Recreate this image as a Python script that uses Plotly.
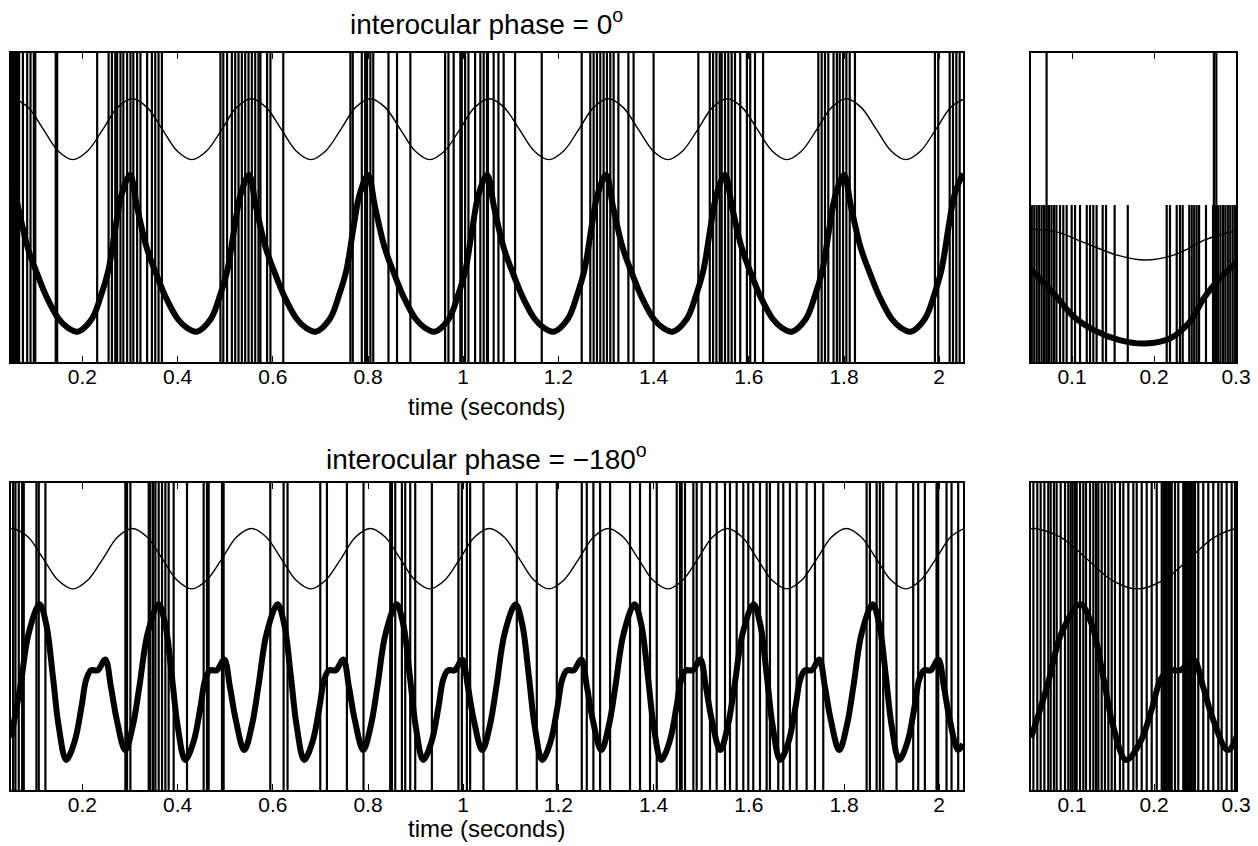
import plotly.graph_objects as go

# ---------------- data ----------------
# thin stimulus curve (same in both long panels and bottom-right panel)
THIN_T = [0.05, 0.055, 0.086, 0.118, 0.149, 0.180, 0.211, 0.243, 0.274,
          0.305, 0.336, 0.368, 0.399, 0.430, 0.461, 0.493, 0.524,
          0.555, 0.586, 0.618, 0.649, 0.680, 0.711, 0.743, 0.774,
          0.805, 0.836, 0.868, 0.899, 0.930, 0.961, 0.993, 1.024,
          1.055, 1.086, 1.118, 1.149, 1.180, 1.211, 1.243, 1.274,
          1.305, 1.336, 1.368, 1.399, 1.430, 1.461, 1.493, 1.524,
          1.555, 1.586, 1.618, 1.649, 1.680, 1.711, 1.743, 1.774,
          1.805, 1.836, 1.868, 1.899, 1.930, 1.961, 1.993, 2.024, 2.05]
THIN_Y = [0.851, 0.852, 0.824, 0.753, 0.683, 0.655, 0.683, 0.753, 0.824,
          0.852, 0.824, 0.753, 0.683, 0.655, 0.683, 0.753, 0.824,
          0.852, 0.824, 0.753, 0.683, 0.655, 0.683, 0.753, 0.824,
          0.852, 0.824, 0.753, 0.683, 0.655, 0.683, 0.753, 0.824,
          0.852, 0.824, 0.753, 0.683, 0.655, 0.683, 0.753, 0.824,
          0.852, 0.824, 0.753, 0.683, 0.655, 0.683, 0.753, 0.824,
          0.852, 0.824, 0.753, 0.683, 0.655, 0.683, 0.753, 0.824,
          0.852, 0.824, 0.753, 0.683, 0.655, 0.683, 0.753, 0.824, 0.850]

# thick response curve, interocular phase 0
TOP_THICK_T = [0.05,
    0.065, 0.085, 0.105, 0.125, 0.15, 0.17, 0.19, 0.22, 0.24, 0.255, 0.27, 0.282, 0.30,
    0.315, 0.335, 0.355, 0.375, 0.40, 0.42, 0.44, 0.47, 0.49, 0.505, 0.52, 0.532, 0.55,
    0.565, 0.585, 0.605, 0.625, 0.65, 0.67, 0.69, 0.72, 0.74, 0.755, 0.77, 0.782, 0.80,
    0.815, 0.835, 0.855, 0.875, 0.90, 0.92, 0.94, 0.97, 0.99, 1.005, 1.02, 1.032, 1.05,
    1.065, 1.085, 1.105, 1.125, 1.15, 1.17, 1.19, 1.22, 1.24, 1.255, 1.27, 1.282, 1.30,
    1.315, 1.335, 1.355, 1.375, 1.40, 1.42, 1.44, 1.47, 1.49, 1.505, 1.52, 1.532, 1.55,
    1.565, 1.585, 1.605, 1.625, 1.65, 1.67, 1.69, 1.72, 1.74, 1.755, 1.77, 1.782, 1.80,
    1.815, 1.835, 1.855, 1.875, 1.90, 1.92, 1.94, 1.97, 1.99, 2.005, 2.02, 2.032, 2.05]
TOP_THICK_Y = [0.60,
    0.50, 0.37, 0.285, 0.21, 0.14, 0.11, 0.098, 0.14, 0.22, 0.30, 0.44, 0.54, 0.605,
    0.50, 0.37, 0.285, 0.21, 0.14, 0.11, 0.098, 0.14, 0.22, 0.30, 0.44, 0.54, 0.605,
    0.50, 0.37, 0.285, 0.21, 0.14, 0.11, 0.098, 0.14, 0.22, 0.30, 0.44, 0.54, 0.605,
    0.50, 0.37, 0.285, 0.21, 0.14, 0.11, 0.098, 0.14, 0.22, 0.30, 0.44, 0.54, 0.605,
    0.50, 0.37, 0.285, 0.21, 0.14, 0.11, 0.098, 0.14, 0.22, 0.30, 0.44, 0.54, 0.605,
    0.50, 0.37, 0.285, 0.21, 0.14, 0.11, 0.098, 0.14, 0.22, 0.30, 0.44, 0.54, 0.605,
    0.50, 0.37, 0.285, 0.21, 0.14, 0.11, 0.098, 0.14, 0.22, 0.30, 0.44, 0.54, 0.605,
    0.50, 0.37, 0.285, 0.21, 0.14, 0.11, 0.098, 0.14, 0.22, 0.30, 0.44, 0.54, 0.61]

# thick response curve, interocular phase -180
BOT_THICK_T = [0.05, 0.07, 0.087,
    0.11, 0.124, 0.138, 0.15, 0.166, 0.184, 0.198, 0.208, 0.218, 0.232, 0.248, 0.26, 0.272, 0.29, 0.306, 0.32, 0.337,
    0.36, 0.374, 0.388, 0.40, 0.416, 0.434, 0.448, 0.458, 0.468, 0.482, 0.498, 0.51, 0.522, 0.54, 0.556, 0.57, 0.587,
    0.61, 0.624, 0.638, 0.65, 0.666, 0.684, 0.698, 0.708, 0.718, 0.732, 0.748, 0.76, 0.772, 0.79, 0.806, 0.82, 0.837,
    0.86, 0.874, 0.888, 0.90, 0.916, 0.934, 0.948, 0.958, 0.968, 0.982, 0.998, 1.01, 1.022, 1.04, 1.056, 1.07, 1.087,
    1.11, 1.124, 1.138, 1.15, 1.166, 1.184, 1.198, 1.208, 1.218, 1.232, 1.248, 1.26, 1.272, 1.29, 1.306, 1.32, 1.337,
    1.36, 1.374, 1.388, 1.40, 1.416, 1.434, 1.448, 1.458, 1.468, 1.482, 1.498, 1.51, 1.522, 1.54, 1.556, 1.57, 1.587,
    1.61, 1.624, 1.638, 1.65, 1.666, 1.684, 1.698, 1.708, 1.718, 1.732, 1.748, 1.76, 1.772, 1.79, 1.806, 1.82, 1.837,
    1.86, 1.874, 1.888, 1.90, 1.916, 1.934, 1.948, 1.958, 1.968, 1.982, 1.998, 2.01, 2.022, 2.04, 2.05]
BOT_THICK_Y = [0.17, 0.34, 0.51,
    0.605, 0.54, 0.37, 0.21, 0.098, 0.16, 0.27, 0.36, 0.39, 0.39, 0.425, 0.335, 0.23, 0.13, 0.21, 0.34, 0.51,
    0.605, 0.54, 0.37, 0.21, 0.098, 0.16, 0.27, 0.36, 0.39, 0.39, 0.425, 0.335, 0.23, 0.13, 0.21, 0.34, 0.51,
    0.605, 0.54, 0.37, 0.21, 0.098, 0.16, 0.27, 0.36, 0.39, 0.39, 0.425, 0.335, 0.23, 0.13, 0.21, 0.34, 0.51,
    0.605, 0.54, 0.37, 0.21, 0.098, 0.16, 0.27, 0.36, 0.39, 0.39, 0.425, 0.335, 0.23, 0.13, 0.21, 0.34, 0.51,
    0.605, 0.54, 0.37, 0.21, 0.098, 0.16, 0.27, 0.36, 0.39, 0.39, 0.425, 0.335, 0.23, 0.13, 0.21, 0.34, 0.51,
    0.605, 0.54, 0.37, 0.21, 0.098, 0.16, 0.27, 0.36, 0.39, 0.39, 0.425, 0.335, 0.23, 0.13, 0.21, 0.34, 0.51,
    0.605, 0.54, 0.37, 0.21, 0.098, 0.16, 0.27, 0.36, 0.39, 0.39, 0.425, 0.335, 0.23, 0.13, 0.21, 0.34, 0.51,
    0.605, 0.54, 0.37, 0.21, 0.098, 0.16, 0.27, 0.36, 0.39, 0.39, 0.425, 0.335, 0.23, 0.13, 0.15]

# top-right panel curves
TR_THIN_T = [0.05, 0.081, 0.118, 0.155, 0.189, 0.224, 0.242, 0.262, 0.289, 0.30]
TR_THIN_Y = [0.43, 0.421, 0.383, 0.346, 0.33, 0.346, 0.367, 0.395, 0.418, 0.425]
TR_THICK_T = [0.05, 0.081, 0.102, 0.126, 0.158, 0.189, 0.22, 0.242, 0.262, 0.28, 0.30]
TR_THICK_Y = [0.30, 0.211, 0.147, 0.104, 0.071, 0.06, 0.077, 0.125, 0.211, 0.27, 0.32]

# spike times
TL_SPIKES = [0.052, 0.055, 0.058, 0.061, 0.064, 0.067, 0.075, 0.084, 0.091, 0.098, 0.101,
             0.144, 0.147, 0.231, 0.255, 0.262, 0.269, 0.273, 0.28, 0.286, 0.294, 0.301,
             0.307, 0.315, 0.322, 0.336, 0.346, 0.353, 0.36, 0.367,
             0.49, 0.496, 0.504, 0.514, 0.521, 0.528, 0.535, 0.542, 0.549, 0.556, 0.563,
             0.57, 0.574, 0.588, 0.595, 0.622,
             0.763, 0.768, 0.787, 0.794, 0.798, 0.805, 0.811, 0.843, 0.861, 0.889,
             0.962, 0.969, 0.98, 0.994, 0.997, 1.004, 1.011, 1.025, 1.036, 1.043, 1.05,
             1.052, 1.064, 1.074, 1.085, 1.109, 1.165,
             1.249, 1.267, 1.274, 1.281, 1.288, 1.295, 1.302, 1.309, 1.316, 1.326, 1.347,
             1.358, 1.40,
             1.494, 1.518, 1.525, 1.532, 1.539, 1.543, 1.55, 1.557, 1.564, 1.571, 1.582,
             1.596, 1.603, 1.613, 1.63,
             1.746, 1.753, 1.76, 1.767, 1.778, 1.785, 1.791, 1.798, 1.805, 1.812, 1.823,
             1.991, 1.998, 2.022, 2.029, 2.036, 2.043]
TR_SPIKES_FULL = [0.069, 0.273, 0.276]
TR_SPIKES_SHORT = [0.051, 0.054, 0.057, 0.060, 0.063, 0.066, 0.069, 0.072, 0.075, 0.078, 0.081,
                   0.0854, 0.0894, 0.0935, 0.0996, 0.1037, 0.1098, 0.118, 0.122, 0.126, 0.130,
                   0.1374, 0.1415, 0.152, 0.168, 0.2155, 0.2195, 0.2277, 0.2317, 0.235,
                   0.243, 0.246, 0.249, 0.252, 0.255, 0.2634, 0.272, 0.275, 0.278, 0.281,
                   0.284, 0.287, 0.290, 0.293, 0.296, 0.299]
TR_SHORT_TOP = 0.508
BL_SPIKES = [0.0545, 0.0593, 0.0663, 0.0734, 0.0768, 0.1034, 0.1083, 0.1223,
             0.2903, 0.2938, 0.3008, 0.3393, 0.3428, 0.3484, 0.3533, 0.3603, 0.3673,
             0.3743, 0.3812, 0.3917, 0.4198, 0.4547, 0.4617, 0.4652, 0.4933, 0.4967,
             0.5947, 0.6227, 0.631, 0.6997, 0.7137, 0.7557, 0.7906, 0.8467, 0.8502,
             0.8572, 0.8712, 0.8782, 0.8887, 0.8992,
             0.9342, 0.99, 0.9972, 1.0077, 1.0146, 1.0426, 1.1126, 1.1546, 1.1966,
             1.2491, 1.2596, 1.2735, 1.2876, 1.3086, 1.3505, 1.3715, 1.3925, 1.4066,
             1.4486, 1.4555, 1.459, 1.466, 1.4835, 1.4905, 1.501, 1.5185, 1.5325, 1.55,
             1.5605, 1.5745, 1.5884, 1.5989, 1.6094, 1.6235, 1.6375, 1.6444, 1.6619,
             1.6724, 1.6864, 1.7005, 1.7215, 1.739,
             1.7564, 1.8475, 1.8544, 1.8685, 1.8754, 1.8824, 1.9104, 1.9454, 1.9559,
             1.9699, 1.9944, 1.9979, 2.0154, 2.0259, 2.0399]
BR_SPIKES = [0.0529, 0.0577, 0.0618, 0.0663, 0.0711, 0.074, 0.078, 0.0813, 0.0862,
             0.0915, 0.0955, 0.0984, 0.1008, 0.1037, 0.1057, 0.1098, 0.1138, 0.1171,
             0.122, 0.126, 0.1293, 0.1321, 0.1362, 0.1402, 0.1443, 0.1484, 0.1524,
             0.1585, 0.1626, 0.1687, 0.1748, 0.1789, 0.185, 0.1911, 0.1972, 0.2033,
             0.2094, 0.2114, 0.2134, 0.2155, 0.2175, 0.2195, 0.2216, 0.2256, 0.2296,
             0.2357, 0.2378, 0.2398, 0.2418, 0.2439, 0.2459, 0.248, 0.25, 0.254,
             0.2601, 0.2662, 0.2723, 0.2784, 0.2825, 0.2886, 0.2947, 0.2988]

LEFT_TICKS = [0.2, 0.4, 0.6, 0.8, 1.0, 1.2, 1.4, 1.6, 1.8, 2.0]
LEFT_TICK_TEXT = ["0.2", "0.4", "0.6", "0.8", "1", "1.2", "1.4", "1.6", "1.8", "2"]
RIGHT_TICKS = [0.1, 0.2, 0.3]
RIGHT_TICK_TEXT = ["0.1", "0.2", "0.3"]
TITLE_TOP = "interocular phase = 0<sup>o</sup>"
TITLE_BOT = "interocular phase = \u2212180<sup>o</sup>"
XLABEL = "time (seconds)"

# ---------------- figure ----------------
FONT = "Liberation Sans, Arial, Helvetica, sans-serif"
W, H = 1258, 846


def spike_xy(times, top):
    xs, ys = [], []
    for t in times:
        xs += [t, t, None]
        ys += [0, top, None]
    return xs, ys


fig = go.Figure()


def add_spikes(times, top, xa, ya, width=2.2):
    xs, ys = spike_xy(times, top)
    fig.add_trace(go.Scatter(x=xs, y=ys, mode="lines", xaxis=xa, yaxis=ya,
                             line=dict(color="black", width=width),
                             hoverinfo="skip", showlegend=False))


def add_curve(t, y, xa, ya, width):
    fig.add_trace(go.Scatter(x=t, y=y, mode="lines", xaxis=xa, yaxis=ya,
                             line=dict(color="black", width=width, shape="spline",
                                       smoothing=1.0),
                             hoverinfo="skip", showlegend=False))


# top-left
add_spikes(TL_SPIKES, 1, "x", "y")
add_curve(THIN_T, THIN_Y, "x", "y", 1.4)
add_curve(TOP_THICK_T, TOP_THICK_Y, "x", "y", 6)
# top-right
add_spikes(TR_SPIKES_SHORT, TR_SHORT_TOP, "x2", "y2")
add_spikes(TR_SPIKES_FULL, 1, "x2", "y2")
add_curve(TR_THIN_T, TR_THIN_Y, "x2", "y2", 1.4)
add_curve(TR_THICK_T, TR_THICK_Y, "x2", "y2", 6)
# bottom-left
add_spikes(BL_SPIKES, 1, "x3", "y3")
add_curve(THIN_T, THIN_Y, "x3", "y3", 1.4)
add_curve(BOT_THICK_T, BOT_THICK_Y, "x3", "y3", 6)
# bottom-right
add_spikes(BR_SPIKES, 1, "x4", "y4")
add_curve(THIN_T, THIN_Y, "x4", "y4", 1.4)
add_curve(BOT_THICK_T, BOT_THICK_Y, "x4", "y4", 6)


def px_x(a, b):
    return [a / W, b / W]


def px_y(top, bottom):
    return [1 - bottom / H, 1 - top / H]


LEFT_DOM = px_x(11, 963)
RIGHT_DOM = px_x(1031, 1236)
TOP_DOM = px_y(53, 362)
BOT_DOM = px_y(483, 790)


def xax(domain, rng, ticks, text, anchor):
    return dict(domain=domain, range=rng, anchor=anchor, tickmode="array",
                tickvals=ticks, ticktext=text, ticks="inside", ticklen=6,
                tickwidth=1.2, tickcolor="black", showline=True, linecolor="black",
                linewidth=1.6, mirror="ticks", showgrid=False, zeroline=False,
                tickfont=dict(family=FONT, size=21, color="black"),
                ticklabelstandoff=-5, automargin=False)


def yax(domain, anchor):
    return dict(domain=domain, range=[0, 1], anchor=anchor, showline=True,
                linecolor="black", linewidth=1.6, mirror=True, ticks="",
                showticklabels=False, showgrid=False, zeroline=False,
                automargin=False)


fig.update_layout(
    width=W, height=H, autosize=False,
    margin=dict(l=0, r=0, t=0, b=0, pad=0),
    paper_bgcolor="white", plot_bgcolor="white",
    showlegend=False, hovermode=False,
    xaxis=xax(LEFT_DOM, [0.05, 2.05], LEFT_TICKS, LEFT_TICK_TEXT, "y"),
    yaxis=yax(TOP_DOM, "x"),
    xaxis2=xax(RIGHT_DOM, [0.05, 0.3], RIGHT_TICKS, RIGHT_TICK_TEXT, "y2"),
    yaxis2=yax(TOP_DOM, "x2"),
    xaxis3=xax(LEFT_DOM, [0.05, 2.05], LEFT_TICKS, LEFT_TICK_TEXT, "y3"),
    yaxis3=yax(BOT_DOM, "x3"),
    xaxis4=xax(RIGHT_DOM, [0.05, 0.3], RIGHT_TICKS, RIGHT_TICK_TEXT, "y4"),
    yaxis4=yax(BOT_DOM, "x4"),
)

ann_font_title = dict(family=FONT, size=28, color="black")
ann_font_label = dict(family=FONT, size=24, color="black")
cx = 486 / W
fig.add_annotation(text=TITLE_TOP, x=cx, y=1 - 22 / H, xref="paper", yref="paper",
                   showarrow=False, font=ann_font_title, xanchor="center", yanchor="middle")
fig.add_annotation(text=TITLE_BOT, x=cx, y=1 - 457 / H, xref="paper", yref="paper",
                   showarrow=False, font=ann_font_title, xanchor="center", yanchor="middle")
fig.add_annotation(text=XLABEL, x=cx, y=1 - 406 / H, xref="paper", yref="paper",
                   showarrow=False, font=ann_font_label, xanchor="center", yanchor="middle")
fig.add_annotation(text=XLABEL, x=cx, y=1 - 828 / H, xref="paper", yref="paper",
                   showarrow=False, font=ann_font_label, xanchor="center", yanchor="middle")

POST = ("document.documentElement.style.overflow='hidden';"
        "document.body.style.margin='0';document.body.style.overflow='hidden';")

fig.write_html("out.html", config={"displayModeBar": False}, post_script=POST)
